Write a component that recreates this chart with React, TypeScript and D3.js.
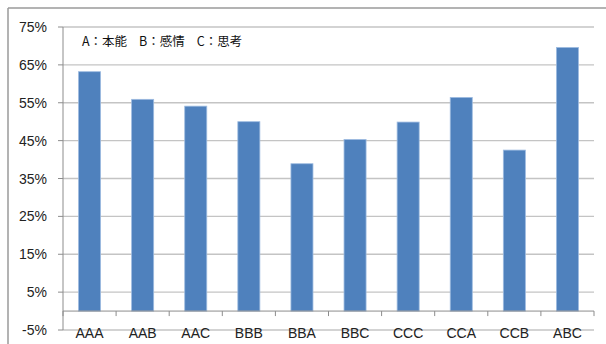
import React from "react";
import * as d3 from "d3";

const categories = ["AAA", "AAB", "AAC", "BBB", "BBA", "BBC", "CCC", "CCA", "CCB", "ABC"];
const values = [63.2, 55.9, 54.1, 50.0, 38.9, 45.3, 49.9, 56.4, 42.5, 69.6];
const yTicks = [-5, 5, 15, 25, 35, 45, 55, 65, 75];
const legendItems = ["A：本能", "B：感情", "C：思考"];

const W = 606;
const H = 344;
const plot = { left: 63, right: 594, top: 27, bottom: 330 };

export default function App() {
  const y = d3.scaleLinear().domain([-5, 75]).range([plot.bottom, plot.top]);
  const x = d3
    .scaleBand<string>()
    .domain(categories)
    .range([plot.left, plot.right])
    .paddingInner(0.585)
    .paddingOuter(0.2925);
  const step = x.step();
  const y0 = y(0);
  const font = "'Liberation Sans', Arial, sans-serif";

  return (
    <svg
      width={W}
      height={H}
      style={{ position: "absolute", left: 0, top: 0, background: "#fff" }}
    >
      {/* outer chart frame (top and left edges) */}
      <line x1={8} x2={W} y1={8} y2={8} stroke="#9a9a9a" strokeWidth={1.5} />
      <line x1={8} x2={8} y1={8} y2={H} stroke="#9a9a9a" strokeWidth={1.5} />

      {/* horizontal gridlines */}
      {yTicks.map((t) => (
        <line
          key={t}
          x1={plot.left}
          x2={plot.right}
          y1={y(t)}
          y2={y(t)}
          stroke="#c4c4c4"
          strokeWidth={1.3}
        />
      ))}

      {/* y axis */}
      <line x1={plot.left} x2={plot.left} y1={plot.top} y2={plot.bottom} stroke="#8c8c8c" strokeWidth={1} />
      {yTicks.map((t) => (
        <g key={"yt" + t}>
          <line x1={plot.left - 5} x2={plot.left} y1={y(t)} y2={y(t)} stroke="#8c8c8c" />
          <text
            x={47}
            y={y(t)}
            dy="0.36em"
            textAnchor="end"
            fontFamily={font}
            fontSize={14}
            fill="#222"
          >
            {t}%
          </text>
        </g>
      ))}

      {/* bars */}
      {categories.map((c, i) => (
        <rect
          key={c}
          x={x(c)}
          y={y(values[i])}
          width={x.bandwidth()}
          height={y0 - y(values[i])}
          fill="#4f81bd"
          stroke="#9dbbe0"
          strokeWidth={0.8}
        />
      ))}

      {/* category axis at zero */}
      <line x1={plot.left} x2={plot.right} y1={y0} y2={y0} stroke="#8c8c8c" strokeWidth={1} />
      {d3.range(categories.length + 1).map((k) => (
        <line
          key={"xt" + k}
          x1={plot.left + k * step}
          x2={plot.left + k * step}
          y1={y0}
          y2={y0 + 5}
          stroke="#8c8c8c"
        />
      ))}
      {categories.map((c) => (
        <text
          key={"xl" + c}
          x={(x(c) as number) + x.bandwidth() / 2}
          y={338}
          textAnchor="middle"
          fontFamily={font}
          fontSize={14}
          fill="#222"
        >
          {c}
        </text>
      ))}

      {/* legend note */}
      <text
        x={82}
        y={46}
        fontFamily="'Noto Sans CJK JP', 'Noto Sans CJK SC', sans-serif"
        fontSize={12.5}
        fill="#111"
      >
        {legendItems.map((s, i) => (
          <tspan key={s} dx={i === 0 ? 0 : 12}>
            {s}
          </tspan>
        ))}
      </text>
    </svg>
  );
}
